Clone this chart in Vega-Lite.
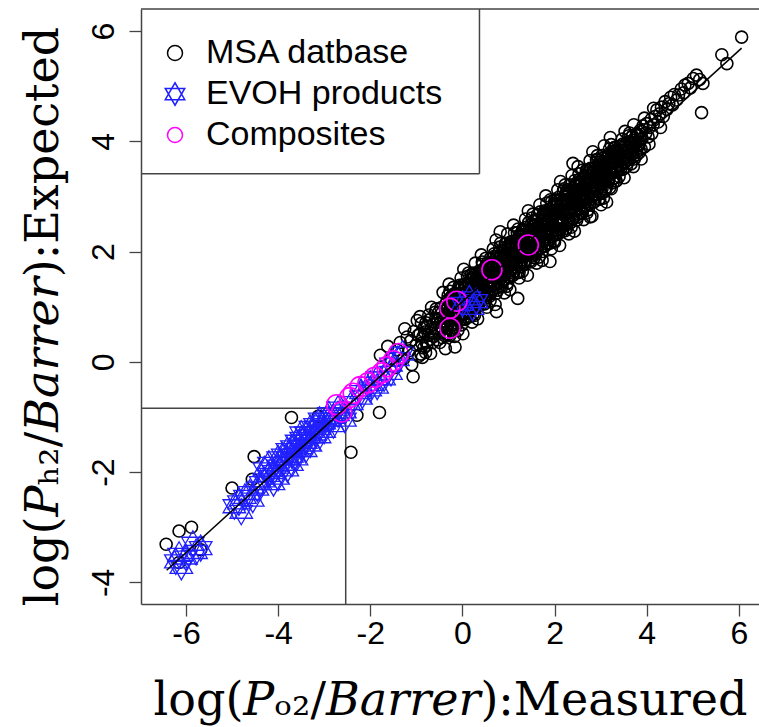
{
  "$schema": "https://vega.github.io/schema/vega-lite/v6.json",
  "width": 618,
  "height": 595,
  "autosize": {"type": "none"},
  "padding": {"left": 141, "top": 9, "right": 0, "bottom": 123},
  "background": "white",
  "config": {
    "view": {"stroke": null},
    "axis": {
      "grid": false,
      "domainColor": "#444",
      "domainWidth": 1.5,
      "tickColor": "#444",
      "tickWidth": 1.3,
      "tickSize": 12,
      "labelFont": "Liberation Sans",
      "labelFontSize": 32,
      "labelColor": "#000",
      "titleColor": "#000",
      "titleFontWeight": "normal"
    }
  },
  "datasets": {
    "msa": [
      {"x":-1.78,"y":0.12},{"x":-1.62,"y":0.28},{"x":-1.55,"y":0.05},{"x":-1.45,"y":-0.1},{"x":-1.42,"y":0.22},{"x":-1.35,"y":0.35},{"x":-1.28,"y":0.05},{"x":-1.25,"y":0.6},{"x":-1.2,"y":0.45},{"x":-1.15,"y":0.2},{"x":-1.1,"y":-0.05},{"x":-1.07,"y":-0.27},{"x":-1.05,"y":0.55},{"x":-1.0,"y":0.3},{"x":-0.98,"y":0.75},{"x":-0.95,"y":0.1},{"x":-0.92,"y":0.82},{"x":-1.12,"y":0.38},{"x":-0.96,"y":0.48},
      {"x":-0.16,"y":0.27},{"x":0.74,"y":0.91},{"x":1.9,"y":1.82},{"x":0.82,"y":2.36},{"x":2.77,"y":2.63},{"x":1.2,"y":1.15},{"x":2.4,"y":3.6},
      {"x":-3.71,"y":-1.01},{"x":-2.29,"y":-0.97},{"x":-1.8,"y":-0.92},{"x":-2.42,"y":-1.64},{"x":-4.52,"y":-1.72},{"x":-4.56,"y":-2.13},{"x":-5.0,"y":-2.29},{"x":-6.15,"y":-3.07},{"x":-5.88,"y":-3.0},{"x":-6.43,"y":-3.31},{"x":-5.68,"y":-3.41},{"x":-6.15,"y":-3.64},{"x":-3.13,"y":-0.99},
      {"x":-0.9,"y":0.14},{"x":-0.88,"y":0.34},{"x":-0.92,"y":0.51},{"x":-0.89,"y":0.7},
      {"x":-0.84,"y":0.25},{"x":-0.86,"y":0.45},{"x":-0.83,"y":0.62},{"x":-0.87,"y":0.08},
      {"x":-0.8,"y":0.17},{"x":-0.78,"y":0.36},{"x":-0.82,"y":0.54},{"x":-0.79,"y":0.71},
      {"x":-0.74,"y":0.48},{"x":-0.76,"y":0.65},{"x":-0.73,"y":0.85},{"x":-0.77,"y":0.3},
      {"x":-0.7,"y":0.41},{"x":-0.68,"y":0.6},{"x":-0.72,"y":0.76},{"x":-0.69,"y":0.15},
      {"x":-0.64,"y":0.35},{"x":-0.66,"y":0.52},{"x":-0.63,"y":0.68},{"x":-0.67,"y":0.99},
      {"x":-0.6,"y":0.62},{"x":-0.58,"y":0.78},{"x":-0.62,"y":0.46},{"x":-0.59,"y":0.9},
      {"x":-0.54,"y":0.4},{"x":-0.56,"y":0.6},{"x":-0.53,"y":0.77},{"x":-0.57,"y":0.96},
      {"x":-0.5,"y":0.52},{"x":-0.48,"y":0.72},{"x":-0.52,"y":0.89},{"x":-0.49,"y":0.35},
      {"x":-0.44,"y":0.44},{"x":-0.46,"y":0.63},{"x":-0.43,"y":0.81},{"x":-0.47,"y":0.98},
      {"x":-0.4,"y":0.74},{"x":-0.38,"y":0.98},{"x":-0.42,"y":1.26},{"x":-0.39,"y":0.48},
      {"x":-0.34,"y":0.61},{"x":-0.36,"y":0.87},{"x":-0.33,"y":1.11},{"x":-0.37,"y":0.24},
      {"x":-0.3,"y":0.5},{"x":-0.28,"y":0.74},{"x":-0.32,"y":0.98},{"x":-0.29,"y":1.41},
      {"x":-0.24,"y":0.89},{"x":-0.26,"y":1.12},{"x":-0.23,"y":0.66},{"x":-0.27,"y":1.28},
      {"x":-0.2,"y":0.56},{"x":-0.18,"y":0.84},{"x":-0.22,"y":1.08},{"x":-0.19,"y":1.35},
      {"x":-0.14,"y":0.71},{"x":-0.16,"y":1.0},{"x":-0.13,"y":1.23},{"x":-0.17,"y":0.46},
      {"x":-0.1,"y":0.57},{"x":-0.08,"y":0.84},{"x":-0.12,"y":1.09},{"x":-0.09,"y":1.34},
      {"x":-0.04,"y":1.0},{"x":-0.06,"y":1.24},{"x":-0.03,"y":1.52},{"x":-0.07,"y":0.74},
      {"x":0.0,"y":0.88},{"x":0.02,"y":1.14},{"x":-0.02,"y":1.38},{"x":0.01,"y":0.51},
      {"x":0.06,"y":0.77},{"x":0.04,"y":1.01},{"x":0.07,"y":1.25},{"x":0.03,"y":1.68},
      {"x":0.1,"y":1.16},{"x":0.12,"y":1.39},{"x":0.08,"y":0.93},{"x":0.11,"y":1.55},
      {"x":0.16,"y":0.82},{"x":0.14,"y":1.1},{"x":0.17,"y":1.34},{"x":0.13,"y":1.61},
      {"x":0.2,"y":0.97},{"x":0.22,"y":1.26},{"x":0.18,"y":1.49},{"x":0.21,"y":0.72},
      {"x":0.26,"y":0.84},{"x":0.24,"y":1.11},{"x":0.27,"y":1.36},{"x":0.23,"y":1.61},
      {"x":0.3,"y":1.27},{"x":0.32,"y":1.51},{"x":0.28,"y":1.79},{"x":0.31,"y":1.01},
      {"x":0.36,"y":1.15},{"x":0.34,"y":1.41},{"x":0.37,"y":1.65},{"x":0.33,"y":0.78},
      {"x":0.4,"y":1.03},{"x":0.42,"y":1.27},{"x":0.38,"y":1.51},{"x":0.41,"y":1.94},
      {"x":0.46,"y":1.42},{"x":0.44,"y":1.65},{"x":0.47,"y":1.19},{"x":0.43,"y":1.81},
      {"x":0.5,"y":1.09},{"x":0.52,"y":1.37},{"x":0.48,"y":1.61},{"x":0.51,"y":1.88},
      {"x":0.56,"y":1.24},{"x":0.54,"y":1.53},{"x":0.57,"y":1.76},{"x":0.53,"y":0.99},
      {"x":0.6,"y":1.11},{"x":0.62,"y":1.38},{"x":0.58,"y":1.63},{"x":0.61,"y":1.88},
      {"x":0.66,"y":1.53},{"x":0.64,"y":1.77},{"x":0.67,"y":2.05},{"x":0.63,"y":1.27},
      {"x":0.7,"y":1.41},{"x":0.72,"y":1.67},{"x":0.68,"y":1.91},{"x":0.71,"y":1.04},
      {"x":0.76,"y":1.3},{"x":0.74,"y":1.54},{"x":0.77,"y":1.78},{"x":0.73,"y":2.21},
      {"x":0.8,"y":1.69},{"x":0.82,"y":1.92},{"x":0.78,"y":1.46},{"x":0.81,"y":2.08},
      {"x":0.86,"y":1.36},{"x":0.84,"y":1.64},{"x":0.87,"y":1.88},{"x":0.83,"y":2.15},
      {"x":0.9,"y":1.5},{"x":0.92,"y":1.79},{"x":0.88,"y":2.02},{"x":0.91,"y":1.25},
      {"x":0.96,"y":1.37},{"x":0.94,"y":1.64},{"x":0.97,"y":1.89},{"x":0.93,"y":2.14},
      {"x":1.0,"y":1.8},{"x":1.02,"y":2.04},{"x":0.98,"y":2.32},{"x":1.01,"y":1.54},
      {"x":1.06,"y":1.68},{"x":1.04,"y":1.94},{"x":1.07,"y":2.18},{"x":1.03,"y":1.31},
      {"x":1.1,"y":1.57},{"x":1.12,"y":1.81},{"x":1.08,"y":2.05},{"x":1.11,"y":2.48},
      {"x":1.16,"y":1.95},{"x":1.14,"y":2.18},{"x":1.17,"y":1.72},{"x":1.13,"y":2.34},
      {"x":1.2,"y":1.62},{"x":1.22,"y":1.9},{"x":1.18,"y":2.14},{"x":1.21,"y":2.41},
      {"x":1.26,"y":1.77},{"x":1.24,"y":2.06},{"x":1.27,"y":2.29},{"x":1.23,"y":1.52},
      {"x":1.3,"y":1.64},{"x":1.32,"y":1.91},{"x":1.28,"y":2.16},{"x":1.31,"y":2.41},
      {"x":1.36,"y":2.07},{"x":1.34,"y":2.31},{"x":1.37,"y":2.59},{"x":1.33,"y":1.81},
      {"x":1.4,"y":1.94},{"x":1.42,"y":2.2},{"x":1.38,"y":2.44},{"x":1.41,"y":1.57},
      {"x":1.46,"y":1.83},{"x":1.44,"y":2.07},{"x":1.47,"y":2.31},{"x":1.43,"y":2.74},
      {"x":1.5,"y":2.22},{"x":1.52,"y":2.45},{"x":1.48,"y":1.99},{"x":1.51,"y":2.61},
      {"x":1.56,"y":1.89},{"x":1.54,"y":2.17},{"x":1.57,"y":2.41},{"x":1.53,"y":2.68},
      {"x":1.6,"y":2.04},{"x":1.62,"y":2.33},{"x":1.58,"y":2.56},{"x":1.61,"y":1.79},
      {"x":1.66,"y":1.9},{"x":1.64,"y":2.17},{"x":1.67,"y":2.42},{"x":1.63,"y":2.67},
      {"x":1.7,"y":2.33},{"x":1.72,"y":2.57},{"x":1.68,"y":2.85},{"x":1.71,"y":2.07},
      {"x":1.76,"y":2.21},{"x":1.74,"y":2.47},{"x":1.77,"y":2.71},{"x":1.73,"y":1.84},
      {"x":1.8,"y":2.1},{"x":1.82,"y":2.34},{"x":1.78,"y":2.58},{"x":1.81,"y":3.01},
      {"x":1.86,"y":2.49},{"x":1.84,"y":2.72},{"x":1.87,"y":2.26},{"x":1.83,"y":2.88},
      {"x":1.9,"y":2.15},{"x":1.92,"y":2.43},{"x":1.88,"y":2.67},{"x":1.91,"y":2.94},
      {"x":1.96,"y":2.3},{"x":1.94,"y":2.59},{"x":1.97,"y":2.82},{"x":1.93,"y":2.05},
      {"x":2.0,"y":2.17},{"x":2.02,"y":2.44},{"x":1.98,"y":2.69},{"x":2.01,"y":2.94},
      {"x":2.06,"y":2.6},{"x":2.04,"y":2.84},{"x":2.07,"y":3.12},{"x":2.03,"y":2.34},
      {"x":2.1,"y":2.48},{"x":2.12,"y":2.74},{"x":2.08,"y":2.98},{"x":2.11,"y":2.11},
      {"x":2.16,"y":2.36},{"x":2.14,"y":2.6},{"x":2.17,"y":2.84},{"x":2.13,"y":3.27},
      {"x":2.2,"y":2.75},{"x":2.22,"y":2.98},{"x":2.18,"y":2.52},{"x":2.21,"y":3.14},
      {"x":2.26,"y":2.42},{"x":2.24,"y":2.7},{"x":2.27,"y":2.94},{"x":2.23,"y":3.21},
      {"x":2.3,"y":2.57},{"x":2.32,"y":2.86},{"x":2.28,"y":3.09},{"x":2.31,"y":2.32},
      {"x":2.36,"y":2.44},{"x":2.34,"y":2.71},{"x":2.37,"y":2.96},{"x":2.33,"y":3.21},
      {"x":2.4,"y":2.86},{"x":2.42,"y":3.1},{"x":2.38,"y":3.38},{"x":2.41,"y":2.6},
      {"x":2.46,"y":2.74},{"x":2.44,"y":3.0},{"x":2.47,"y":3.24},{"x":2.43,"y":2.37},
      {"x":2.5,"y":2.63},{"x":2.52,"y":2.87},{"x":2.48,"y":3.11},{"x":2.51,"y":3.54},
      {"x":2.56,"y":3.02},{"x":2.54,"y":3.25},{"x":2.57,"y":2.79},{"x":2.53,"y":3.41},
      {"x":2.6,"y":2.69},{"x":2.62,"y":2.97},{"x":2.58,"y":3.21},{"x":2.61,"y":3.48},
      {"x":2.66,"y":2.83},{"x":2.64,"y":3.12},{"x":2.67,"y":3.35},{"x":2.63,"y":2.58},
      {"x":2.7,"y":2.7},{"x":2.72,"y":2.97},{"x":2.68,"y":3.22},{"x":2.71,"y":3.47},
      {"x":2.76,"y":3.13},{"x":2.74,"y":3.37},{"x":2.77,"y":3.65},{"x":2.73,"y":2.87},
      {"x":2.8,"y":3.01},{"x":2.82,"y":3.27},{"x":2.78,"y":3.51},{"x":2.81,"y":2.64},
      {"x":2.86,"y":2.9},{"x":2.84,"y":3.14},{"x":2.87,"y":3.38},{"x":2.83,"y":3.81},
      {"x":2.9,"y":3.28},{"x":2.92,"y":3.51},{"x":2.88,"y":3.05},{"x":2.91,"y":3.67},
      {"x":2.96,"y":2.95},{"x":2.94,"y":3.23},{"x":2.97,"y":3.47},{"x":2.93,"y":3.74},
      {"x":3.0,"y":3.1},{"x":3.02,"y":3.39},{"x":2.98,"y":3.62},{"x":3.01,"y":2.85},
      {"x":3.06,"y":2.97},{"x":3.04,"y":3.24},{"x":3.07,"y":3.49},{"x":3.03,"y":3.74},
      {"x":3.1,"y":3.4},{"x":3.12,"y":3.64},{"x":3.08,"y":3.92},{"x":3.11,"y":3.14},
      {"x":3.16,"y":3.27},{"x":3.14,"y":3.53},{"x":3.17,"y":3.77},{"x":3.13,"y":2.9},
      {"x":3.2,"y":3.16},{"x":3.22,"y":3.4},{"x":3.18,"y":3.64},{"x":3.21,"y":4.07},
      {"x":3.26,"y":3.55},{"x":3.24,"y":3.78},{"x":3.27,"y":3.32},{"x":3.23,"y":3.94},
      {"x":3.3,"y":3.33},{"x":3.32,"y":3.53},{"x":3.28,"y":3.7},{"x":3.31,"y":3.89},
      {"x":3.36,"y":3.45},{"x":3.34,"y":3.65},{"x":3.37,"y":3.82},{"x":3.33,"y":3.28},
      {"x":3.4,"y":3.36},{"x":3.42,"y":3.55},{"x":3.38,"y":3.73},{"x":3.41,"y":3.9},
      {"x":3.46,"y":3.67},{"x":3.44,"y":3.84},{"x":3.47,"y":4.04},{"x":3.43,"y":3.49},
      {"x":3.5,"y":3.6},{"x":3.52,"y":3.79},{"x":3.48,"y":3.95},{"x":3.51,"y":3.34},
      {"x":3.56,"y":3.54},{"x":3.54,"y":3.71},{"x":3.57,"y":3.87},{"x":3.53,"y":4.18},
      {"x":3.6,"y":3.82},{"x":3.62,"y":3.98},{"x":3.58,"y":3.66},{"x":3.61,"y":4.1},
      {"x":3.66,"y":3.59},{"x":3.64,"y":3.79},{"x":3.67,"y":3.96},{"x":3.63,"y":4.15},
      {"x":3.7,"y":3.71},{"x":3.72,"y":3.91},{"x":3.68,"y":4.08},{"x":3.71,"y":3.54},
      {"x":-0.37,"y":0.51},{"x":-0.39,"y":0.79},{"x":-0.36,"y":1.05},
      {"x":-0.32,"y":0.66},{"x":-0.34,"y":0.94},{"x":-0.31,"y":1.2},
      {"x":-0.27,"y":0.48},{"x":-0.29,"y":0.76},{"x":-0.26,"y":1.04},
      {"x":-0.22,"y":0.67},{"x":-0.24,"y":0.96},{"x":-0.21,"y":1.22},
      {"x":-0.17,"y":0.88},{"x":-0.19,"y":1.16},{"x":-0.16,"y":0.62},
      {"x":-0.12,"y":0.7},{"x":-0.14,"y":0.98},{"x":-0.11,"y":1.24},
      {"x":-0.07,"y":0.85},{"x":-0.09,"y":1.13},{"x":-0.06,"y":1.39},
      {"x":-0.02,"y":0.67},{"x":-0.04,"y":0.95},{"x":-0.01,"y":1.23},
      {"x":0.03,"y":0.86},{"x":0.01,"y":1.15},{"x":0.04,"y":1.41},
      {"x":0.08,"y":1.07},{"x":0.06,"y":1.35},{"x":0.09,"y":0.81},
      {"x":0.13,"y":0.89},{"x":0.11,"y":1.17},{"x":0.14,"y":1.43},
      {"x":0.18,"y":1.04},{"x":0.16,"y":1.32},{"x":0.19,"y":1.58},
      {"x":0.23,"y":0.86},{"x":0.21,"y":1.14},{"x":0.24,"y":1.42},
      {"x":0.28,"y":1.05},{"x":0.26,"y":1.34},{"x":0.29,"y":1.6},
      {"x":0.33,"y":1.26},{"x":0.31,"y":1.54},{"x":0.34,"y":1.0},
      {"x":0.38,"y":1.08},{"x":0.36,"y":1.36},{"x":0.39,"y":1.62},
      {"x":0.43,"y":1.23},{"x":0.41,"y":1.51},{"x":0.44,"y":1.77},
      {"x":0.48,"y":1.05},{"x":0.46,"y":1.33},{"x":0.49,"y":1.61},
      {"x":0.53,"y":1.24},{"x":0.51,"y":1.53},{"x":0.54,"y":1.79},
      {"x":0.58,"y":1.45},{"x":0.56,"y":1.73},{"x":0.59,"y":1.19},
      {"x":0.63,"y":1.27},{"x":0.61,"y":1.55},{"x":0.64,"y":1.81},
      {"x":0.68,"y":1.42},{"x":0.66,"y":1.7},{"x":0.69,"y":1.96},
      {"x":0.73,"y":1.24},{"x":0.71,"y":1.52},{"x":0.74,"y":1.8},
      {"x":0.78,"y":1.43},{"x":0.76,"y":1.72},{"x":0.79,"y":1.98},
      {"x":0.83,"y":1.64},{"x":0.81,"y":1.92},{"x":0.84,"y":1.38},
      {"x":0.88,"y":1.46},{"x":0.86,"y":1.74},{"x":0.89,"y":2.0},
      {"x":0.93,"y":1.61},{"x":0.91,"y":1.89},{"x":0.94,"y":2.15},
      {"x":0.98,"y":1.43},{"x":0.96,"y":1.71},{"x":0.99,"y":1.99},
      {"x":1.03,"y":1.62},{"x":1.01,"y":1.91},{"x":1.04,"y":2.17},
      {"x":1.08,"y":1.83},{"x":1.06,"y":2.11},{"x":1.09,"y":1.57},
      {"x":1.13,"y":1.65},{"x":1.11,"y":1.93},{"x":1.14,"y":2.19},
      {"x":1.18,"y":1.8},{"x":1.16,"y":2.08},{"x":1.19,"y":2.34},
      {"x":1.23,"y":1.62},{"x":1.21,"y":1.9},{"x":1.24,"y":2.18},
      {"x":1.28,"y":1.81},{"x":1.26,"y":2.1},{"x":1.29,"y":2.36},
      {"x":1.33,"y":2.02},{"x":1.31,"y":2.3},{"x":1.34,"y":1.76},
      {"x":1.38,"y":1.84},{"x":1.36,"y":2.12},{"x":1.39,"y":2.38},
      {"x":1.43,"y":1.99},{"x":1.41,"y":2.27},{"x":1.44,"y":2.53},
      {"x":1.48,"y":1.81},{"x":1.46,"y":2.09},{"x":1.49,"y":2.37},
      {"x":1.53,"y":2.0},{"x":1.51,"y":2.29},{"x":1.54,"y":2.55},
      {"x":1.58,"y":2.21},{"x":1.56,"y":2.49},{"x":1.59,"y":1.95},
      {"x":1.63,"y":2.03},{"x":1.61,"y":2.31},{"x":1.64,"y":2.57},
      {"x":1.68,"y":2.18},{"x":1.66,"y":2.46},{"x":1.69,"y":2.72},
      {"x":1.73,"y":2.0},{"x":1.71,"y":2.28},{"x":1.74,"y":2.56},
      {"x":1.78,"y":2.19},{"x":1.76,"y":2.48},{"x":1.79,"y":2.74},
      {"x":1.83,"y":2.4},{"x":1.81,"y":2.68},{"x":1.84,"y":2.14},
      {"x":1.88,"y":2.22},{"x":1.86,"y":2.5},{"x":1.89,"y":2.76},
      {"x":1.93,"y":2.37},{"x":1.91,"y":2.65},{"x":1.94,"y":2.91},
      {"x":1.98,"y":2.19},{"x":1.96,"y":2.47},{"x":1.99,"y":2.75},
      {"x":2.03,"y":2.38},{"x":2.01,"y":2.67},{"x":2.04,"y":2.93},
      {"x":2.08,"y":2.59},{"x":2.06,"y":2.87},{"x":2.09,"y":2.33},
      {"x":2.13,"y":2.41},{"x":2.11,"y":2.69},{"x":2.14,"y":2.95},
      {"x":2.18,"y":2.56},{"x":2.16,"y":2.84},{"x":2.19,"y":3.1},
      {"x":2.23,"y":2.38},{"x":2.21,"y":2.66},{"x":2.24,"y":2.94},
      {"x":2.28,"y":2.57},{"x":2.26,"y":2.86},{"x":2.29,"y":3.12},
      {"x":2.33,"y":2.78},{"x":2.31,"y":3.06},{"x":2.34,"y":2.52},
      {"x":2.38,"y":2.6},{"x":2.36,"y":2.88},{"x":2.39,"y":3.14},
      {"x":2.43,"y":2.75},{"x":2.41,"y":3.03},{"x":2.44,"y":3.29},
      {"x":2.48,"y":2.57},{"x":2.46,"y":2.85},{"x":2.49,"y":3.13},
      {"x":2.53,"y":2.76},{"x":2.51,"y":3.05},{"x":2.54,"y":3.31},
      {"x":2.58,"y":2.97},{"x":2.56,"y":3.25},{"x":2.59,"y":2.71},
      {"x":2.63,"y":2.79},{"x":2.61,"y":3.07},{"x":2.64,"y":3.33},
      {"x":2.68,"y":2.94},{"x":2.66,"y":3.22},{"x":2.69,"y":3.48},
      {"x":2.73,"y":2.76},{"x":2.71,"y":3.04},{"x":2.74,"y":3.32},
      {"x":2.78,"y":2.95},{"x":2.76,"y":3.24},{"x":2.79,"y":3.5},
      {"x":2.83,"y":3.16},{"x":2.81,"y":3.44},{"x":2.84,"y":2.9},
      {"x":2.88,"y":2.98},{"x":2.86,"y":3.26},{"x":2.89,"y":3.52},
      {"x":2.93,"y":3.13},{"x":2.91,"y":3.41},{"x":2.94,"y":3.67},
      {"x":2.98,"y":2.95},{"x":2.96,"y":3.23},{"x":2.99,"y":3.51},
      {"x":3.03,"y":3.14},{"x":3.01,"y":3.43},{"x":3.04,"y":3.69},
      {"x":3.08,"y":3.35},{"x":3.06,"y":3.63},{"x":3.09,"y":3.09},
      {"x":3.13,"y":3.17},{"x":3.11,"y":3.45},{"x":3.14,"y":3.71},
      {"x":3.18,"y":3.32},{"x":3.16,"y":3.6},{"x":3.19,"y":3.86},
      {"x":3.23,"y":3.14},{"x":3.21,"y":3.42},{"x":3.24,"y":3.7},
      {"x":3.28,"y":3.33},{"x":3.26,"y":3.62},{"x":3.29,"y":3.88},
      {"x":3.33,"y":3.54},{"x":3.31,"y":3.82},{"x":3.34,"y":3.28},
      {"x":3.38,"y":3.48},{"x":3.36,"y":3.65},{"x":3.39,"y":3.8},
      {"x":3.43,"y":3.58},{"x":3.41,"y":3.75},{"x":3.44,"y":3.91},
      {"x":3.48,"y":3.49},{"x":3.46,"y":3.66},{"x":3.49,"y":3.83},
      {"x":3.53,"y":3.62},{"x":3.51,"y":3.79},{"x":3.54,"y":3.95},
      {"x":3.58,"y":3.76},{"x":3.56,"y":3.93},{"x":3.59,"y":3.61},
      {"x":3.63,"y":3.67},{"x":3.61,"y":3.84},{"x":3.64,"y":3.99},
      {"x":3.68,"y":3.77},{"x":3.66,"y":3.94},{"x":3.69,"y":4.1},
      {"x":3.73,"y":3.68},{"x":3.71,"y":3.85},{"x":3.74,"y":4.02},
      {"x":3.78,"y":3.81},{"x":3.76,"y":3.98},{"x":3.79,"y":4.14},
      {"x":3.83,"y":3.95},{"x":3.81,"y":4.12},{"x":3.84,"y":3.8},
      {"x":3.88,"y":3.86},{"x":3.86,"y":4.03},{"x":3.89,"y":4.18},
      {"x":-0.38,"y":0.69},{"x":-0.36,"y":0.93},{"x":-0.33,"y":0.62},{"x":-0.31,"y":0.84},
      {"x":-0.28,"y":0.93},{"x":-0.26,"y":1.16},{"x":-0.23,"y":0.59},{"x":-0.21,"y":0.87},
      {"x":-0.18,"y":1.14},{"x":-0.16,"y":0.81},{"x":-0.13,"y":0.88},{"x":-0.11,"y":1.12},
      {"x":-0.08,"y":0.81},{"x":-0.06,"y":1.03},{"x":-0.03,"y":1.12},{"x":-0.01,"y":1.35},
      {"x":0.02,"y":0.78},{"x":0.05,"y":1.06},{"x":0.07,"y":1.33},{"x":0.1,"y":1.0},
      {"x":0.12,"y":1.07},{"x":0.15,"y":1.31},{"x":0.17,"y":1.0},{"x":0.2,"y":1.22},
      {"x":0.22,"y":1.31},{"x":0.25,"y":1.54},{"x":0.27,"y":0.97},{"x":0.3,"y":1.25},
      {"x":0.32,"y":1.52},{"x":0.35,"y":1.19},{"x":0.37,"y":1.26},{"x":0.4,"y":1.5},
      {"x":0.42,"y":1.19},{"x":0.45,"y":1.41},{"x":0.47,"y":1.5},{"x":0.5,"y":1.73},
      {"x":0.52,"y":1.16},{"x":0.55,"y":1.44},{"x":0.57,"y":1.71},{"x":0.6,"y":1.38},
      {"x":0.62,"y":1.45},{"x":0.65,"y":1.69},{"x":0.67,"y":1.38},{"x":0.7,"y":1.6},
      {"x":0.72,"y":1.69},{"x":0.75,"y":1.92},{"x":0.77,"y":1.35},{"x":0.8,"y":1.63},
      {"x":0.82,"y":1.9},{"x":0.85,"y":1.57},{"x":0.87,"y":1.64},{"x":0.9,"y":1.88},
      {"x":0.92,"y":1.57},{"x":0.95,"y":1.79},{"x":0.97,"y":1.88},{"x":1.0,"y":2.11},
      {"x":1.02,"y":1.54},{"x":1.05,"y":1.82},{"x":1.07,"y":2.09},{"x":1.1,"y":1.76},
      {"x":1.12,"y":1.83},{"x":1.15,"y":2.07},{"x":1.17,"y":1.76},{"x":1.2,"y":1.98},
      {"x":1.22,"y":2.07},{"x":1.25,"y":2.3},{"x":1.27,"y":1.73},{"x":1.3,"y":2.01},
      {"x":1.32,"y":2.28},{"x":1.35,"y":1.95},{"x":1.37,"y":2.02},{"x":1.4,"y":2.26},
      {"x":1.42,"y":1.95},{"x":1.45,"y":2.17},{"x":1.47,"y":2.26},{"x":1.5,"y":2.49},
      {"x":1.52,"y":1.92},{"x":1.55,"y":2.2},{"x":1.57,"y":2.47},{"x":1.6,"y":2.14},
      {"x":1.62,"y":2.21},{"x":1.65,"y":2.45},{"x":1.67,"y":2.14},{"x":1.7,"y":2.36},
      {"x":1.72,"y":2.45},{"x":1.75,"y":2.68},{"x":1.77,"y":2.11},{"x":1.8,"y":2.39},
      {"x":1.82,"y":2.66},{"x":1.85,"y":2.33},{"x":1.87,"y":2.4},{"x":1.9,"y":2.64},
      {"x":1.92,"y":2.33},{"x":1.95,"y":2.55},{"x":1.97,"y":2.64},{"x":2.0,"y":2.87},
      {"x":2.02,"y":2.3},{"x":2.05,"y":2.58},{"x":2.07,"y":2.85},{"x":2.1,"y":2.52},
      {"x":2.12,"y":2.59},{"x":2.15,"y":2.83},{"x":2.17,"y":2.52},{"x":2.2,"y":2.74},
      {"x":2.22,"y":2.83},{"x":2.25,"y":3.06},{"x":2.27,"y":2.49},{"x":2.3,"y":2.77},
      {"x":2.32,"y":3.04},{"x":2.35,"y":2.71},{"x":2.37,"y":2.78},{"x":2.4,"y":3.02},
      {"x":2.42,"y":2.71},{"x":2.45,"y":2.93},{"x":2.47,"y":3.02},{"x":2.5,"y":3.25},
      {"x":2.52,"y":2.68},{"x":2.55,"y":2.96},{"x":2.57,"y":3.23},{"x":2.6,"y":2.9},
      {"x":2.62,"y":2.97},{"x":2.65,"y":3.21},{"x":2.67,"y":2.9},{"x":2.7,"y":3.12},
      {"x":2.72,"y":3.21},{"x":2.75,"y":3.44},{"x":2.77,"y":2.87},{"x":2.8,"y":3.15},
      {"x":2.82,"y":3.42},{"x":2.85,"y":3.09},{"x":2.87,"y":3.16},{"x":2.9,"y":3.4},
      {"x":2.92,"y":3.09},{"x":2.95,"y":3.31},{"x":2.97,"y":3.4},{"x":3.0,"y":3.63},
      {"x":3.02,"y":3.06},{"x":3.05,"y":3.34},{"x":3.07,"y":3.61},{"x":3.1,"y":3.28},
      {"x":3.12,"y":3.35},{"x":3.15,"y":3.59},{"x":3.17,"y":3.28},{"x":3.2,"y":3.5},
      {"x":3.22,"y":3.59},{"x":3.25,"y":3.82},{"x":3.27,"y":3.25},{"x":3.3,"y":3.53},
      {"x":3.32,"y":3.8},{"x":3.35,"y":3.47},
      {"x":3.75,"y":3.98},{"x":3.78,"y":3.75},{"x":3.8,"y":4.1},{"x":3.83,"y":3.92},{"x":3.86,"y":4.2},{"x":3.9,"y":4.05},{"x":3.92,"y":4.28},{"x":3.95,"y":3.9},{"x":3.98,"y":4.15},{"x":4.0,"y":4.32},{"x":4.03,"y":4.08},{"x":4.06,"y":4.25},{"x":4.1,"y":4.4},{"x":4.11,"y":4.14},{"x":4.14,"y":4.3},{"x":4.18,"y":4.45},{"x":4.22,"y":4.57},{"x":4.25,"y":4.35},{"x":4.28,"y":4.5},{"x":4.32,"y":4.62},{"x":4.36,"y":4.45},{"x":4.4,"y":4.72},{"x":4.44,"y":4.58},{"x":4.48,"y":4.68},{"x":4.52,"y":4.8},{"x":4.56,"y":4.66},{"x":4.6,"y":4.85},{"x":4.65,"y":4.75},{"x":4.69,"y":4.84},{"x":4.75,"y":4.95},{"x":4.8,"y":4.88},{"x":4.83,"y":5.02},{"x":4.9,"y":5.05},{"x":4.95,"y":4.97},{"x":5.01,"y":5.14},{"x":5.08,"y":5.2},{"x":5.15,"y":5.12},{"x":5.22,"y":5.05},{"x":5.19,"y":4.52},{"x":5.63,"y":5.57},{"x":5.74,"y":5.41},{"x":6.06,"y":5.89},{"x":3.72,"y":4.3},{"x":3.88,"y":3.68},{"x":4.05,"y":3.95},{"x":3.95,"y":4.42},{"x":4.3,"y":4.25},{"x":4.15,"y":4.6}
    ],
    "evoh": [
      {"x":-6.22,"y":-3.62},{"x":-6.1,"y":-3.72},{"x":-6.0,"y":-3.55},{"x":-5.85,"y":-3.3},{"x":-5.78,"y":-3.45},{"x":-5.68,"y":-3.38},{"x":-6.15,"y":-3.5},
      {"x":-4.95,"y":-2.62},{"x":-4.85,"y":-2.55},{"x":-4.8,"y":-2.72},{"x":-4.72,"y":-2.45},{"x":-4.62,"y":-2.38},{"x":-4.55,"y":-2.5},{"x":-4.45,"y":-2.3},{"x":-4.38,"y":-2.2},
      {"x":-4.3,"y":-2.15},{"x":-4.3,"y":-1.95},{"x":-4.2,"y":-2.05},{"x":-4.2,"y":-1.85},{"x":-4.1,"y":-2.0},{"x":-4.1,"y":-2.2},{"x":-4.0,"y":-1.9},{"x":-4.0,"y":-1.75},{"x":-4.0,"y":-2.1},{"x":-3.9,"y":-1.85},{"x":-3.9,"y":-1.7},{"x":-3.8,"y":-1.95},{"x":-3.8,"y":-1.75},{"x":-3.8,"y":-1.6},{"x":-3.7,"y":-1.7},{"x":-3.7,"y":-1.55},{"x":-3.7,"y":-1.85},{"x":-3.6,"y":-1.6},{"x":-3.6,"y":-1.45},{"x":-3.6,"y":-1.75},{"x":-3.5,"y":-1.55},{"x":-3.5,"y":-1.4},{"x":-3.5,"y":-1.3},{"x":-3.4,"y":-1.45},{"x":-3.4,"y":-1.6},{"x":-3.4,"y":-1.3},{"x":-3.3,"y":-1.35},{"x":-3.3,"y":-1.2},{"x":-3.3,"y":-1.5},{"x":-3.2,"y":-1.3},{"x":-3.2,"y":-1.15},{"x":-3.1,"y":-1.2},{"x":-3.1,"y":-1.05},{"x":-3.1,"y":-1.35},{"x":-3.0,"y":-1.1},{"x":-3.0,"y":-1.25},{"x":-2.9,"y":-1.05},{"x":-2.9,"y":-0.95},{"x":-2.8,"y":-1.0},{"x":-2.8,"y":-1.15},{"x":-2.7,"y":-0.95},{"x":-2.7,"y":-0.85},{"x":-2.55,"y":-0.9},{"x":-2.55,"y":-1.05},{"x":-2.4,"y":-0.75},{"x":-2.2,"y":-0.65},{"x":-2.2,"y":-0.55},{"x":-2.0,"y":-0.5},{"x":-2.0,"y":-0.4},{"x":-1.85,"y":-0.45},{"x":-1.85,"y":-0.3},{"x":-1.7,"y":-0.3},{"x":-1.55,"y":-0.2},{"x":-1.55,"y":-0.05},{"x":-1.4,"y":0.05},{"x":-1.3,"y":0.15},
      {"x":0.0,"y":1.05},{"x":0.15,"y":1.15},{"x":0.3,"y":1.1},{"x":0.22,"y":0.98}
    ],
    "comp": [
      {"x":-2.73,"y":-0.78},{"x":-2.62,"y":-0.91},{"x":-2.45,"y":-0.65},{"x":-2.37,"y":-0.57},{"x":-2.22,"y":-0.45},{"x":-2.05,"y":-0.38},{"x":-1.9,"y":-0.28},{"x":-1.75,"y":-0.2},{"x":-1.64,"y":-0.09},{"x":-1.5,"y":0.02},{"x":-1.39,"y":0.15},{"x":-0.27,"y":0.61},{"x":-0.27,"y":0.97},{"x":-0.12,"y":1.1},{"x":0.64,"y":1.67},{"x":1.43,"y":2.12}
    ],
    "fit": [{"x":-6.42,"y":-3.78},{"x":6.06,"y":5.69}],
    "vrules": [{"x":-2.533,"y":-4.393,"y2":-0.843},{"x":0.37,"y":3.41,"y2":6.4}],
    "hrules": [{"y":-0.843,"x":-6.976,"x2":-2.533},{"y":3.41,"x":-6.976,"x2":0.37},{"y":6.4,"x":-6.976,"x2":6.437}]
  },
  "encoding": {
    "x": {
      "field": "x", "type": "quantitative",
      "scale": {"domain": [-6.976, 6.437], "nice": false, "zero": false},
      "axis": {
        "values": [-6, -4, -2, 0, 2, 4, 6],
        "labelExpr": "'' + datum.value",
        "labelPadding": 2,
        "labelFlush": false,
        "labelOverlap": false,
        "title": "log(𝑃ₒ₂/𝐵𝑎𝑟𝑟𝑒𝑟):Measured",
        "titleFont": "DejaVu Serif",
        "titleFontSize": 46,
        "titleBaseline": "alphabetic",
        "titleY": 110
      }
    },
    "y": {
      "field": "y", "type": "quantitative",
      "scale": {"domain": [-4.393, 6.4], "nice": false, "zero": false},
      "axis": {
        "values": [-4, -2, 0, 2, 4, 6],
        "labelExpr": "'' + datum.value",
        "labelAngle": 270,
        "labelAlign": "center",
        "labelBaseline": "alphabetic",
        "labelPadding": 16,
        "labelFlush": false,
        "labelOverlap": false,
        "title": "log(𝑃ₕ₂/𝐵𝑎𝑟𝑟𝑒𝑟):Expected",
        "titleFont": "DejaVu Serif",
        "titleFontSize": 46,
        "titleAngle": 270,
        "titleAlign": "center",
        "titleBaseline": "alphabetic",
        "titleX": -84,
        "titleY": 307
      }
    }
  },
  "layer": [
    {
      "data": {"name": "vrules"},
      "mark": {"type": "rule", "color": "#444", "strokeWidth": 1.5},
      "encoding": {"y2": {"field": "y2"}}
    },
    {
      "data": {"name": "hrules"},
      "mark": {"type": "rule", "color": "#444", "strokeWidth": 1.5},
      "encoding": {"x2": {"field": "x2"}}
    },
    {
      "data": {"name": "msa"},
      "mark": {"type": "point", "filled": false, "size": 144, "strokeWidth": 1.6, "opacity": 1},
      "encoding": {
        "color": {"datum": "MSA datbase", "type": "nominal",
          "scale": {"domain": ["MSA datbase", "EVOH products", "Composites"], "range": ["#000000", "#2020ff", "#ff00ff"]},
          "legend": {"orient": "none", "legendX": 17, "legendY": 27, "title": null, "labelFont": "Liberation Sans", "labelFontSize": 34, "labelColor": "#000", "labelLimit": 500, "labelOffset": 14, "symbolSize": 225, "symbolStrokeWidth": 1.5, "rowPadding": 7, "padding": 0}},
        "shape": {"datum": "MSA datbase", "type": "nominal",
          "scale": {"domain": ["MSA datbase", "EVOH products", "Composites"], "range": ["circle", "M0,-1.5L1.3,0.75L-1.3,0.75Z M0,1.5L1.3,-0.75L-1.3,-0.75Z", "circle"]},
          "legend": {"orient": "none", "legendX": 17, "legendY": 27, "title": null, "labelFont": "Liberation Sans", "labelFontSize": 34, "labelColor": "#000", "labelLimit": 500, "labelOffset": 14, "symbolSize": 225, "symbolStrokeWidth": 1.5, "rowPadding": 7, "padding": 0}}
      }
    },
    {
      "data": {"name": "evoh"},
      "mark": {"type": "point", "filled": false, "size": 300, "strokeWidth": 1.3, "opacity": 1},
      "encoding": {
        "color": {"datum": "EVOH products", "type": "nominal"},
        "shape": {"datum": "EVOH products", "type": "nominal"}
      }
    },
    {
      "data": {"name": "comp"},
      "mark": {"type": "point", "filled": false, "size": 400, "strokeWidth": 1.6, "opacity": 1},
      "encoding": {
        "color": {"datum": "Composites", "type": "nominal"},
        "shape": {"datum": "Composites", "type": "nominal"}
      }
    },
    {
      "data": {"name": "fit"},
      "mark": {"type": "line", "color": "#000", "strokeWidth": 1.5},
      "encoding": {}
    }
  ]
}
